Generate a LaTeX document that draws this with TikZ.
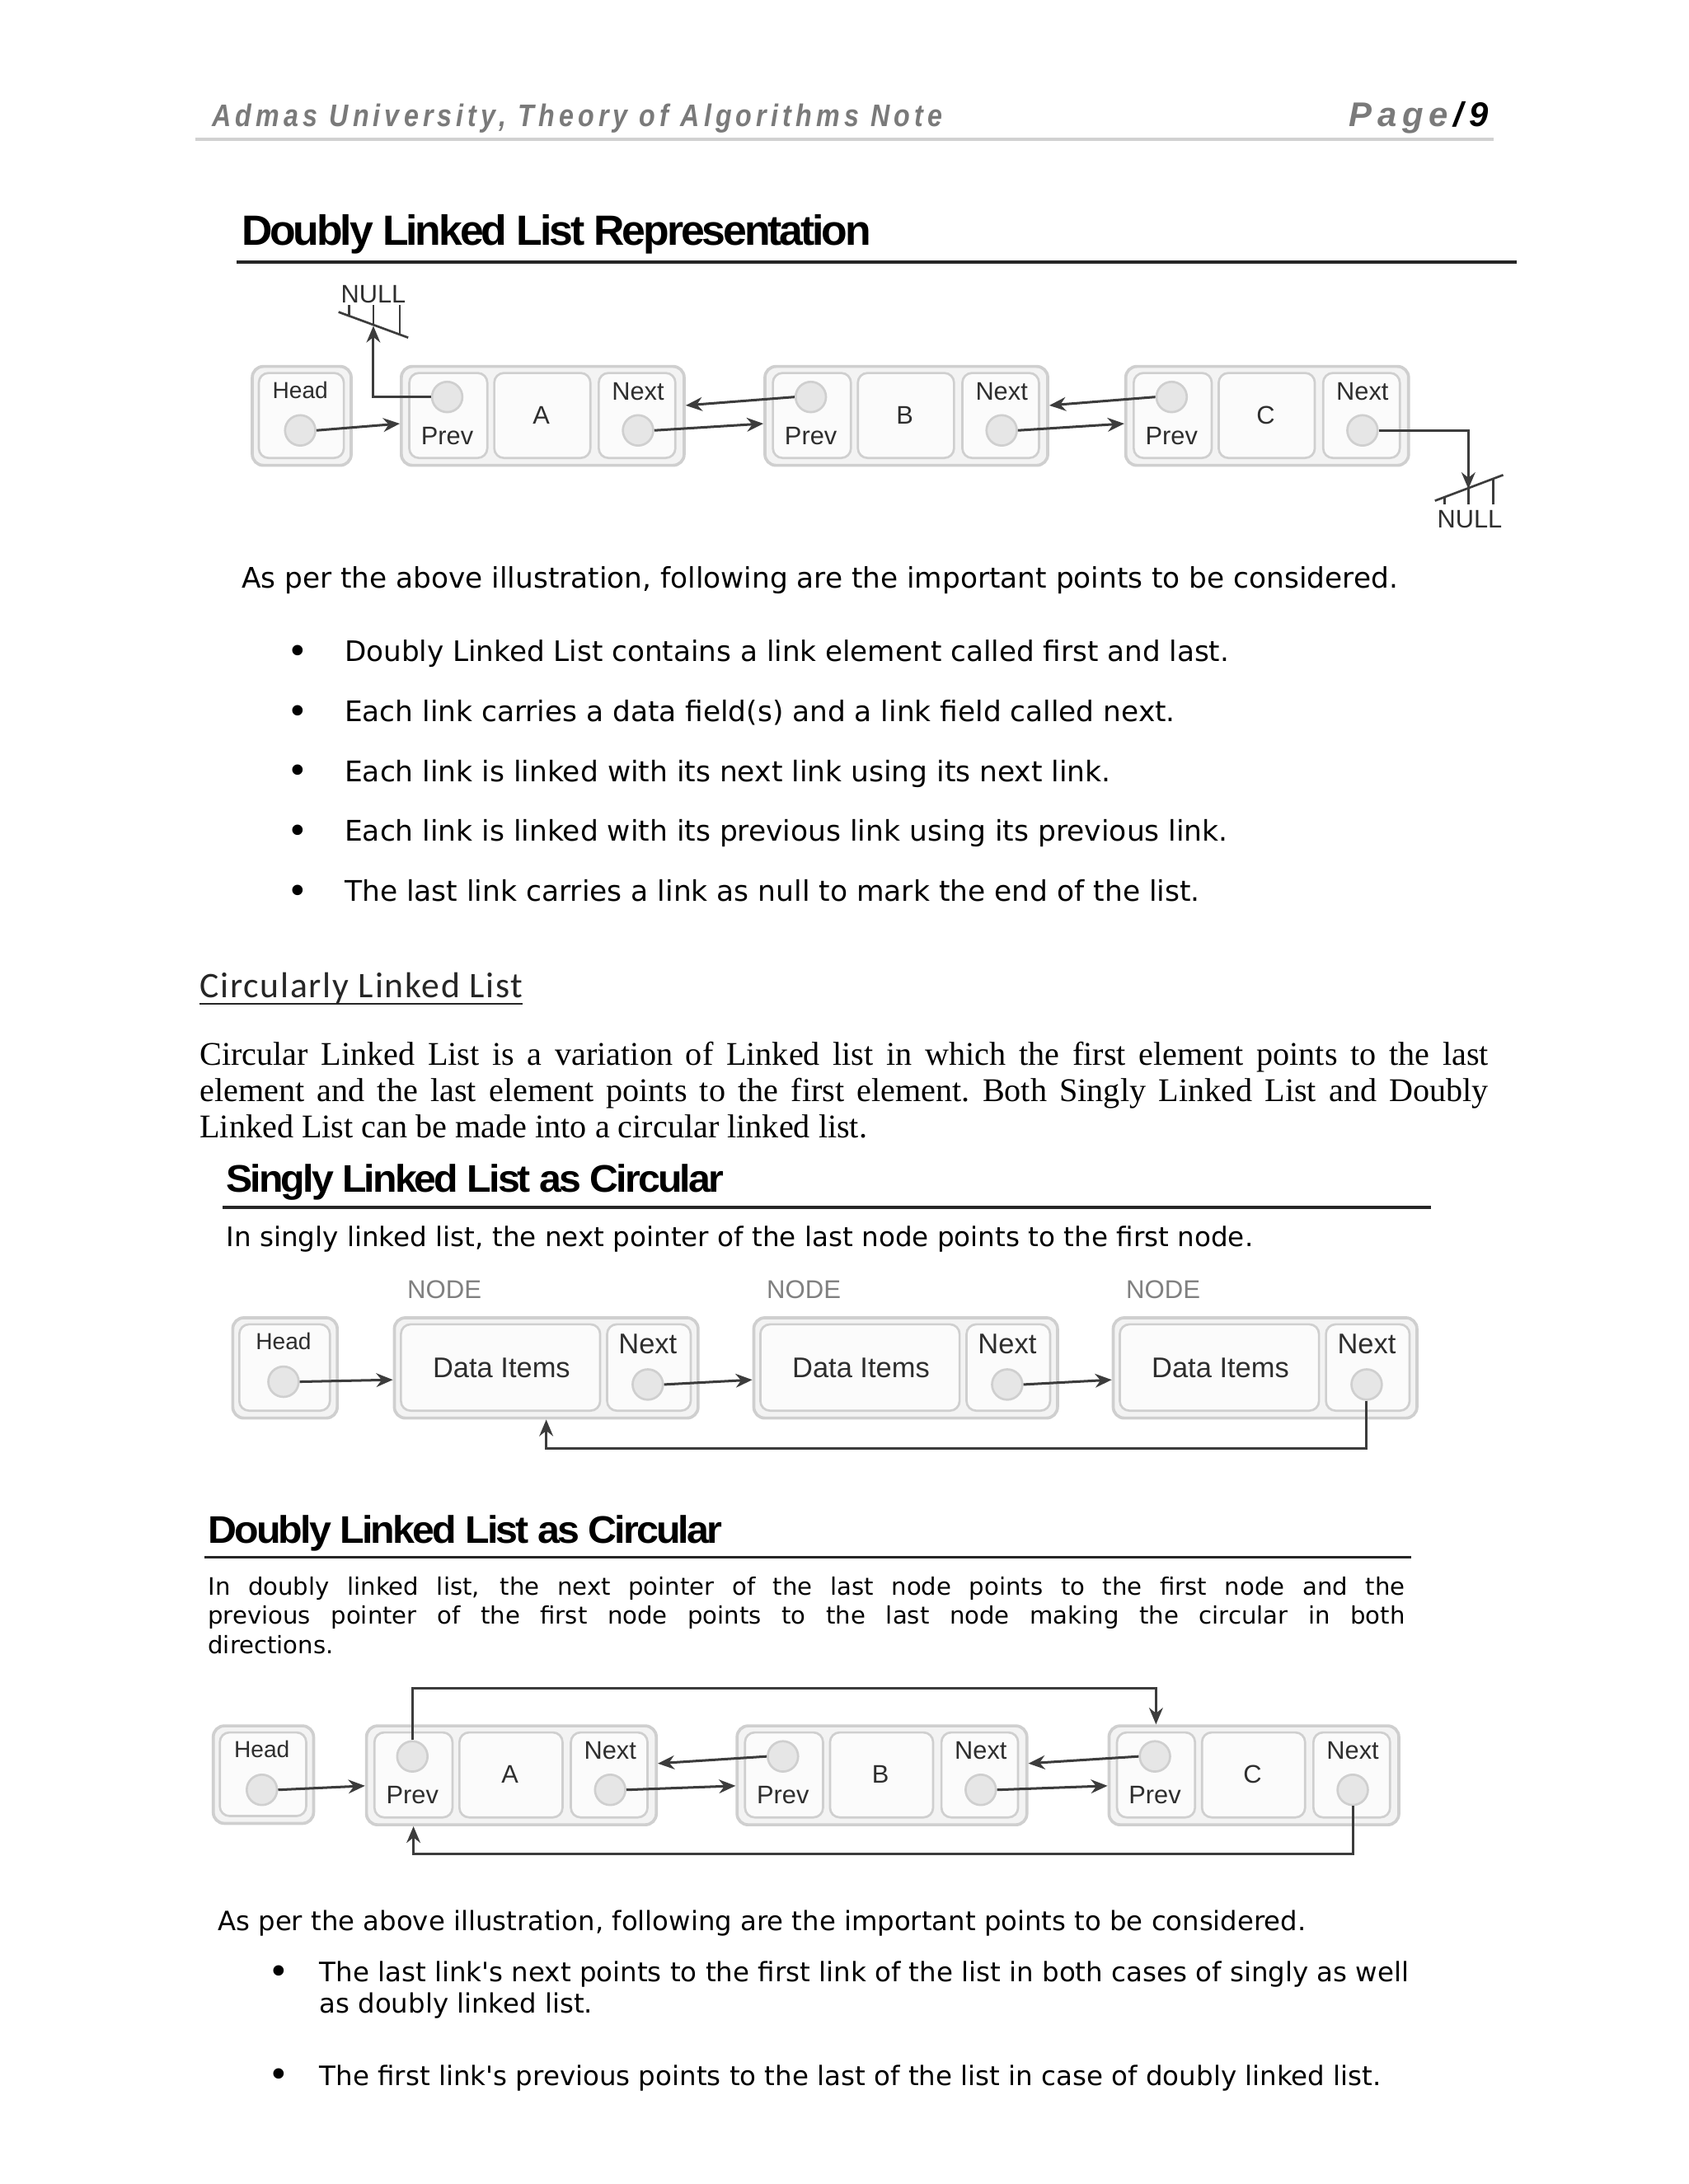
\documentclass[tikz,border=0pt]{standalone}
\usepackage{fontspec}
\usepackage{graphicx}
\setmainfont{Liberation Serif}
\newfontfamily\arialf{Liberation Sans}
\newfontfamily\verdf{DejaVu Sans}
\newfontfamily\hdrf[LetterSpace=16]{Liberation Sans}
\newfontfamily\titf[LetterSpace=-6]{Liberation Sans}
\newfontfamily\calf[LetterSpace=4]{Carlito}
\usetikzlibrary{arrows.meta}

\definecolor{boxline}{HTML}{CFCFCF}
\definecolor{boxfill}{HTML}{F3F3F3}
\definecolor{cellfill}{HTML}{FBFBFB}
\definecolor{ptrfill}{HTML}{E6E6E6}
\definecolor{arrcol}{HTML}{3C3C3C}
\definecolor{lblcol}{HTML}{2E2E2E}
\definecolor{hdrgray}{HTML}{7A7A7A}

\newcommand\fitw[2]{\resizebox{#1}{!}{#2}}
\newcommand\fitwh[3]{\resizebox{#1}{#2}{#3}}

\tikzset{
  outerbox/.style={draw=boxline, fill=boxfill, line width=1.1pt, rounded corners=4pt, inner sep=0pt, anchor=north west},
  cellbox/.style={draw=boxline, fill=cellfill, line width=0.8pt, rounded corners=3.5pt, inner sep=0pt, anchor=north west},
  ptr/.style={circle, draw=boxline, fill=ptrfill, line width=0.8pt, minimum size=11pt, inner sep=0pt},
  lbl/.style={text=lblcol, font=\arialf\fontsize{9.2}{10}\selectfont, inner sep=0pt},
  lblsm/.style={text=lblcol, font=\arialf\fontsize{8.4}{10}\selectfont, inner sep=0pt},
  lblbig/.style={text=lblcol, font=\arialf\fontsize{10.3}{12}\selectfont, inner sep=0pt},
  nodelbl/.style={text=black!50, font=\arialf\fontsize{9.3}{11}\selectfont, inner sep=0pt},
  arr/.style={draw=arrcol, line width=0.9pt, -{Stealth[length=6pt,width=5pt]}},
  gnd/.style={draw=arrcol, line width=0.8pt},
  txt/.style={anchor=base west, inner sep=0pt},
  bul/.style={inner sep=0pt, font=\verdf\fontsize{13}{13}\selectfont},
  rulel/.style={line width=1.1pt, draw=black!85},
}

% doubly linked node: #1 name, #2 left, #3 top, #4 width, #5 data label
\newcommand\dll[5]{%
  \node[outerbox, minimum width={#4*0.50496pt}, minimum height={71*0.50496pt}] (#1) at (#2,#3) {};
  \node[cellbox, minimum width={56*0.50496pt}, minimum height={61*0.50496pt}] (#1p) at ({#2+6},{#3+5}) {};
  \node[cellbox, minimum width={(#4-134)*0.50496pt}, minimum height={61*0.50496pt}] (#1d) at ({#2+67},{#3+5}) {};
  \node[cellbox, minimum width={55*0.50496pt}, minimum height={61*0.50496pt}] (#1n) at ({#2+#4-61},{#3+5}) {};
  \node[ptr] (#1pc) at ({#2+34},{#3+23}) {};
  \node[lbl] (#1pl) at ({#2+34},{#3+51}) {Prev};
  \node[lbl] (#1dl) at ({#2+#4/2},{#3+36}) {#5};
  \node[lbl] (#1nl) at ({#2+#4-32},{#3+19}) {Next};
  \node[ptr] (#1nc) at ({#2+#4-32},{#3+47}) {};
}
% singly linked node: #1 name, #2 left, #3 top
\newcommand\sll[3]{%
  \node[nodelbl] (#1t) at ({#2+37},{#3-19}) {NODE};
  \node[outerbox, minimum width={218*0.50496pt}, minimum height={72*0.50496pt}] (#1) at (#2,#3) {};
  \node[cellbox, minimum width={143*0.50496pt}, minimum height={62*0.50496pt}] (#1d) at ({#2+5},{#3+5}) {};
  \node[cellbox, minimum width={60*0.50496pt}, minimum height={62*0.50496pt}] (#1n) at ({#2+153},{#3+5}) {};
  \node[lblbig] (#1dl) at ({#2+78},{#3+37}) {Data Items};
  \node[lblbig] (#1nl) at ({#2+183},{#3+20}) {Next};
  \node[ptr] (#1nc) at ({#2+183},{#3+49}) {};
}
% head box: #1 name, #2 left, #3 top, #4 width, #5 height
\newcommand\headbox[5]{%
  \node[outerbox, minimum width={#4*0.50496pt}, minimum height={#5*0.50496pt}] (#1) at (#2,#3) {};
  \node[cellbox, minimum width={(#4-10)*0.50496pt}, minimum height={(#5-10)*0.50496pt}] (#1i) at ({#2+5},{#3+5}) {};
  \node[lblsm] (#1l) at ({#2+#4/2},{#3+18}) {Head};
  \node[ptr] (#1c) at ({#2+#4/2},{#3+47}) {};
}

\begin{document}
\begin{tikzpicture}[x=0.50496pt,y=-0.50496pt]
\useasboundingbox (0,0) rectangle (1212,1568);
\fill[white] (0,0) rectangle (1212,1568);

% ---------- header ----------
\node[txt, text=hdrgray] (hdr) at (152,91) {\fitwh{264.6pt}{8.2pt}{\hdrf\bfseries\itshape Admas University, Theory of Algorithms Note}};
\node[txt, text=hdrgray] (pg) at (968,91) {\fitwh{50.5pt}{9pt}{\hdrf\bfseries\itshape Page\,\textcolor{black}{/\,9}}};
\draw[line width=1pt, draw=black!18] (140,100) -- (1072,100);

% ---------- Doubly Linked List Representation ----------
\node[txt] (t1) at (173,176) {\fitwh{228.2pt}{11.1pt}{\titf\bfseries Doubly Linked List Representation}};
\draw[rulel] (170,188) -- (1089,188);

\headbox{H1}{180}{262}{71}{71}
\dll{A1}{287}{262}{203}{A}
\dll{B1}{548}{262}{203}{B}
\dll{C1}{807}{262}{203}{C}

\draw[arr] (H1c.east) -- ([yshift=-2.8pt]A1.west);
\draw[arr] (A1nc.east) -- ([yshift=-2.8pt]B1.west);
\draw[arr] (B1nc.east) -- ([yshift=-2.8pt]C1.west);
\draw[arr] (B1pc.west) -- ([yshift=3.8pt]A1.east);
\draw[arr] (C1pc.west) -- ([yshift=3.8pt]B1.east);

% NULL at the front
\node[lbl] (null1) at (268,211) {NULL};
\coordinate (g1) at (268,234);
\draw[arr] (A1pc.west) -| (g1);
\draw[gnd] (243,224) -- (293,242.4);
\draw[gnd] (250.5,219) -- (250.5,226.8);
\draw[gnd] (268,219) -- (268,233.2);
\draw[gnd] (287,219) -- (287,240.2);

% NULL at the end
\coordinate (g2) at (1054,351);
\draw[arr] (C1nc.east) -| (g2);
\draw[gnd] (1030,359.5) -- (1079,341);
\draw[gnd] (1037,356.9) -- (1037,362);
\draw[gnd] (1054,350.4) -- (1054,362);
\draw[gnd] (1072,343.6) -- (1072,362);
\node[lbl] (null2) at (1055,373) {NULL};

% ---------- points ----------
\node[txt] (as1) at (173,422) {\fitw{419.1pt}{\verdf As per the above illustration, following are the important points to be considered.}};
\foreach \yy/\nm in {469/b1,512/b2,555/b3,598/b4,641/b5}{
  \node[bul] (\nm) at (214,\yy+1) {•};
}
\node[txt] (l1) at (247,475) {\fitw{320.6pt}{\verdf Doubly Linked List contains a link element called first and last.}};
\node[txt] (l2) at (247,518) {\fitw{301.0pt}{\verdf Each link carries a data field(s) and a link field called next.}};
\node[txt] (l3) at (247,561) {\fitw{277.7pt}{\verdf Each link is linked with its next link using its next link.}};
\node[txt] (l4) at (247,604) {\fitw{320.1pt}{\verdf Each link is linked with its previous link using its previous link.}};
\node[txt] (l5) at (247,647) {\fitw{310.0pt}{\verdf The last link carries a link as null to mark the end of the list.}};

% ---------- Circularly Linked List ----------
\node[txt, text=black!85] (cll) at (143,716) {\fitw{117.2pt}{\calf Circularly Linked List}};
\draw[line width=0.6pt, draw=black!85] (143,720.5) -- (375,720.5);

\node[txt, font=\fontsize{12}{14}\selectfont\frenchspacing] (p1) at (143,765) {\makebox[467.1pt][s]{Circular Linked List is a variation of Linked list in which the first element points to the last}};
\node[txt, font=\fontsize{12}{14}\selectfont\frenchspacing] (p2) at (143,791) {\makebox[467.1pt][s]{element and the last element points to the first element. Both Singly Linked List and Doubly}};
\node[txt, font=\fontsize{12}{14}\selectfont\frenchspacing] (p3) at (143,817) {Linked List can be made into a circular linked list.};

% ---------- Singly Linked List as Circular ----------
\node[txt] (t2) at (162,856) {\fitwh{180.3pt}{10.1pt}{\titf\bfseries Singly Linked List as Circular}};
\draw[rulel] (160,867) -- (1027,867);
\node[txt] (sd) at (162,895) {\fitw{372.2pt}{\verdf In singly linked list, the next pointer of the last node points to the first node.}};

\headbox{H2}{166}{945}{75}{72}
\sll{N1}{282}{945}
\sll{N2}{540}{945}
\sll{N3}{798}{945}

\draw[arr] (H2c.east) -- ([yshift=-4.3pt]N1.west);
\draw[arr] (N1nc.east) -- ([yshift=-4.3pt]N2.west);
\draw[arr] (N2nc.east) -- ([yshift=-4.3pt]N3.west);
\coordinate (loop2) at (0,1040);
\draw[arr] (N3nc.south) |- (loop2 -| N1.south) -- (N1.south);

% ---------- Doubly Linked List as Circular ----------
\node[txt] (t3) at (149,1108) {\fitwh{186.3pt}{10.1pt}{\titf\bfseries Doubly Linked List as Circular}};
\draw[rulel] (147,1118) -- (1013,1118);

\node[txt, font=\verdf\fontsize{8.7}{10}\selectfont] (dd1) at (149,1145) {\makebox[433.8pt][s]{In doubly linked list, the next pointer of the last node points to the first node and the}};
\node[txt, font=\verdf\fontsize{8.7}{10}\selectfont] (dd2) at (149,1166) {\makebox[433.8pt][s]{previous pointer of the first node points to the last node making the circular in both}};
\node[txt, font=\verdf\fontsize{8.7}{10}\selectfont] (dd3) at (149,1187) {directions.};

\headbox{H3}{152}{1238}{72}{70}
\dll{A3}{262}{1238}{208}{A}
\dll{B3}{528}{1238}{208}{B}
\dll{C3}{795}{1238}{208}{C}

\draw[arr] (H3c.east) -- ([yshift=-3.8pt]A3.west);
\draw[arr] (A3nc.east) -- ([yshift=-3.8pt]B3.west);
\draw[arr] (B3nc.east) -- ([yshift=-3.8pt]C3.west);
\draw[arr] (B3pc.west) -- ([yshift=4.3pt]A3.east);
\draw[arr] (C3pc.west) -- ([yshift=4.3pt]B3.east);
\coordinate (top3) at (0,1212);
\coordinate (bot3) at (0,1331);
\draw[arr] (A3pc.north) |- (top3 -| C3p.north) -- (C3p.north |- C3.north);
\draw[arr] (C3nc.south) |- (bot3 -| A3p.south) -- (A3p.south |- A3.south);

% ---------- final points ----------
\node[txt] (as2) at (156,1386) {\fitw{394.4pt}{\verdf As per the above illustration, following are the important points to be considered.}};
\node[bul] (b6) at (200,1418) {•};
\node[bul] (b7) at (200,1492) {•};
\node[txt] (m1) at (229,1423) {\fitw{394.9pt}{\verdf The last link's next points to the first link of the list in both cases of singly as well}};
\node[txt] (m2) at (229,1445) {\fitw{99pt}{\verdf as doubly linked list.}};
\node[txt] (m3) at (229,1497) {\fitw{384.8pt}{\verdf The first link's previous points to the last of the list in case of doubly linked list.}};
\end{tikzpicture}
\end{document}
